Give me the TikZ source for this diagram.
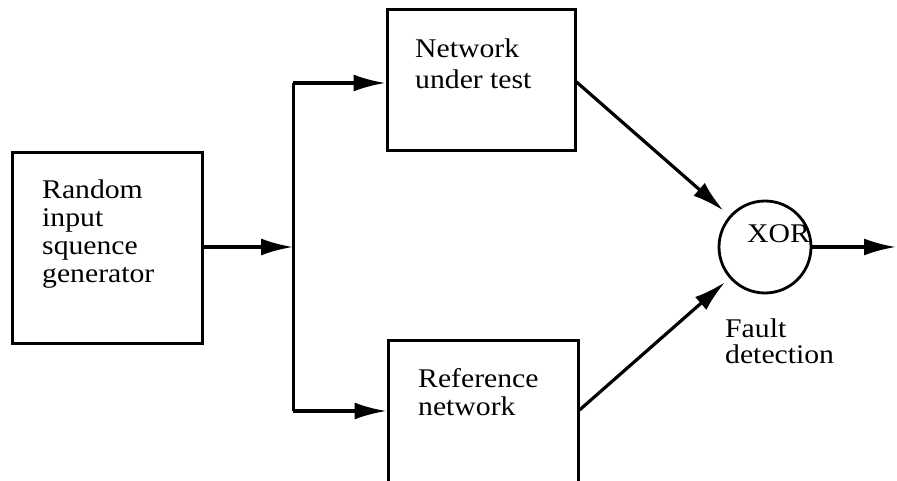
\documentclass[tikz,border=0pt]{standalone}
\usepackage{fontspec}
\setmainfont[FakeStretch=1.1]{Liberation Serif}
\usetikzlibrary{arrows.meta}
\begin{document}
\begin{tikzpicture}[x=1pt,y=1pt,
  blockbox/.style={draw, line width=3pt, rectangle, inner sep=0pt},
  gate/.style={draw, line width=2.8pt, circle, inner sep=0pt, minimum size=92pt},
  flow/.style={line width=3.2pt, -{Latex[length=32pt,width=17pt]}},
  lbl/.style={inner sep=0pt, align=left, anchor=north west,
    font=\fontsize{27}{28}\selectfont},
]
\useasboundingbox (0,0) rectangle (897,480);
\clip (0,0) rectangle (897,480);

% blocks
\node[blockbox, minimum width=190pt, minimum height=190pt] (gen) at (107,232) {};
\node[blockbox, minimum width=188pt, minimum height=141pt] (nut) at (481,399.5) {};
\node[blockbox, minimum width=190pt, minimum height=170pt] (ref) at (483,55) {};
\node[gate] (xor) at (765,233) {};

% block texts
\node[lbl] (gentxt) at (42,300.5) {Random\\input\\squence\\generator};
\node[lbl, font=\fontsize{27}{31}\selectfont] (nuttxt) at (415,441.5) {Network\\under test};
\node[lbl] (reftxt) at (418,111.5) {Reference\\network};
\node[inner sep=0pt, anchor=base west, font=\fontsize{27}{28}\selectfont] (xortxt) at (747,237) {XOR};
\node[lbl, font=\fontsize{27}{26}\selectfont] (fault) at (725,161.5) {Fault\\detection};

% fan-out junction
\coordinate (split) at (293,233);
\coordinate (splitTop) at (293,397);
\coordinate (splitBot) at (293,69);
\coordinate (outEnd) at (896,233);

\draw[flow] (gen.east |- split) -- (split);
\draw[line width=3pt] (splitTop) -- (splitBot);
\draw[flow] (splitTop) -- (nut.west |- splitTop);
\draw[flow] (splitBot) -- (ref.west |- splitBot);

% into and out of the XOR gate
\draw[flow, shorten >=8pt] (nut.east |- 0,398) -- (xor);
\draw[flow, shorten >=6pt] (ref.east |- 0,70) -- (xor);
\draw[flow] (xor.east) -- (outEnd);
\end{tikzpicture}
\end{document}
